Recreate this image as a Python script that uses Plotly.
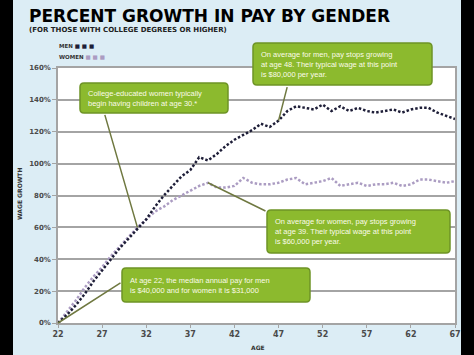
import plotly.graph_objects as go

ages = list(range(22, 68))
men = [0, 5, 11, 18, 26, 33, 40, 47, 53, 59, 65, 73, 80, 86, 92, 96, 104, 102, 106, 111,
       115, 118, 121, 125, 123, 127, 133, 136, 135, 134, 137, 133, 136, 133, 135, 133,
       132, 133, 134, 132, 134, 135, 135, 132, 130, 128]
women = [0, 7, 14, 22, 29, 35, 42, 48, 54, 60, 65, 70, 73, 77, 80, 83, 86, 88, 85, 85,
         86, 91, 88, 87, 87, 88, 90, 91, 87, 88, 89, 91, 86, 87, 88, 86, 87, 87, 88, 86,
         87, 90, 90, 89, 88, 89]
x_ticks = [22, 27, 32, 37, 42, 47, 52, 57, 62, 67]
y_ticks = [0, 20, 40, 60, 80, 100, 120, 140, 160]
y_tick_labels = [f"{v}%" for v in y_ticks]

MEN_C = "#1e1e38"
WOMEN_C = "#ab9cc2"
BOX_FILL = "#8cba2e"
BOX_LINE = "#6e9426"
LEAD_C = "#6f7840"

W, H = 474, 355
L, R, T, B = 58, 19, 68, 32
PW, PH = W - L - R, H - T - B

def px(xp):
    return (xp - L) / PW

def py(yp):
    return (H - B - yp) / PH

fig = go.Figure()
fig.add_trace(go.Scatter(x=ages, y=women, mode="lines", name="WOMEN",
                         line=dict(color=WOMEN_C, width=2.5, dash="2.5px,2px")))
fig.add_trace(go.Scatter(x=ages, y=men, mode="lines", name="MEN",
                         line=dict(color=MEN_C, width=2.5, dash="2.5px,2px")))

fig.update_layout(
    width=W, height=H,
    margin=dict(l=L, r=R, t=T, b=B),
    paper_bgcolor="#dcedf5",
    plot_bgcolor="white",
    showlegend=False,
    xaxis=dict(range=[22, 67], tickvals=x_ticks, ticktext=[str(v) for v in x_ticks],
               showgrid=False, zeroline=False, showline=True, linecolor="#a4a4a4",
               linewidth=1.5, mirror=True, ticks="outside", ticklen=3, tickcolor="#a4a4a4",
               tickfont=dict(family="DejaVu Sans", size=8, color="#4a4a4a", weight="bold")),
    yaxis=dict(range=[0, 160], tickvals=y_ticks, ticktext=y_tick_labels,
               showgrid=True, gridcolor="#a4a4a4", gridwidth=2, zeroline=False,
               showline=True, linecolor="#a4a4a4", linewidth=1.5, mirror=True,
               ticks="outside", ticklen=4, tickcolor="#a4a4a4",
               tickfont=dict(family="DejaVu Sans", size=7, color="#4a4a4a", weight="bold")),
)

annos = []
annos.append(dict(text="PERCENT GROWTH IN PAY BY GENDER", xref="paper", yref="paper",
                  x=px(27), y=py(16), xanchor="left", yanchor="middle", showarrow=False,
                  font=dict(family="DejaVu Sans", size=17, color="black", weight="bold")))
annos.append(dict(text="(FOR THOSE WITH COLLEGE DEGREES OR HIGHER)", xref="paper", yref="paper",
                  x=px(27), y=py(29.5), xanchor="left", yanchor="middle", showarrow=False,
                  font=dict(family="DejaVu Sans", size=7, color="#222", weight="bold")))
annos.append(dict(text=f"MEN <span style='color:{MEN_C}'>■ ■ ■</span>", xref="paper", yref="paper",
                  x=px(57), y=py(46), xanchor="left", yanchor="middle", showarrow=False,
                  font=dict(family="DejaVu Sans", size=5.5, color="#333", weight="bold")))
annos.append(dict(text=f"WOMEN <span style='color:{WOMEN_C}'>■ ■ ■</span>", xref="paper", yref="paper",
                  x=px(57), y=py(57), xanchor="left", yanchor="middle", showarrow=False,
                  font=dict(family="DejaVu Sans", size=5.5, color="#333", weight="bold")))
annos.append(dict(text="WAGE GROWTH", xref="paper", yref="paper", x=px(19), y=py(194),
                  textangle=-90, showarrow=False, xanchor="center", yanchor="middle",
                  font=dict(family="DejaVu Sans", size=6, color="#333", weight="bold")))
annos.append(dict(text="AGE", xref="paper", yref="paper", x=px(258), y=py(347),
                  showarrow=False, xanchor="center", yanchor="middle",
                  font=dict(family="DejaVu Sans", size=6, color="#333", weight="bold")))

leaders = [
    (31, 60, -33, -114),
    (47, 127, 9, -35),
    (39, 88, 59, 29),
    (22, 0, 64, -41),
]
for xv, yv, ax, ay in leaders:
    annos.append(dict(text="", x=xv, y=yv, xref="x", yref="y", showarrow=True,
                      arrowhead=0, arrowwidth=1.5, arrowcolor=LEAD_C, ax=ax, ay=ay,
                      standoff=0, startstandoff=0))

boxes = [
    ("College-educated women typically<br>begin having children at age 30.*", 80, 228, 83, 113),
    ("On average for men, pay stops growing<br>at age 48. Their typical wage at this point<br>is $80,000 per year.", 253, 432, 43, 85),
    ("On average for women, pay stops growing<br>at age 39. Their typical wage at this point<br>is $60,000 per year.", 267, 450, 210, 253),
    ("At age 22, the median annual pay for men<br>is $40,000 and for women it is $31,000", 122, 310, 268, 302),
]
shapes = []
for text, x0, x1, y0, y1 in boxes:
    r = 4
    def P(a, b):
        return f"{px(a):.5f},{py(b):.5f}"
    path = (f"M {P(x0 + r, y0)} L {P(x1 - r, y0)} Q {P(x1, y0)} {P(x1, y0 + r)} "
            f"L {P(x1, y1 - r)} Q {P(x1, y1)} {P(x1 - r, y1)} L {P(x0 + r, y1)} "
            f"Q {P(x0, y1)} {P(x0, y1 - r)} L {P(x0, y0 + r)} Q {P(x0, y0)} {P(x0 + r, y0)} Z")
    shapes.append(dict(type="path", path=path, xref="paper", yref="paper",
                       fillcolor=BOX_FILL, line=dict(color=BOX_LINE, width=1.5), layer="above"))
    annos.append(dict(text=text, xref="paper", yref="paper", x=px(x0 + 6), y=py((y0 + y1) / 2),
                      xanchor="left", yanchor="middle", showarrow=False, align="left",
                      font=dict(family="Liberation Sans", size=7.5, color="#fbfbe8")))

shapes.append(dict(type="rect", xref="paper", yref="paper", x0=px(0), x1=px(13), y0=py(355), y1=py(0),
                   fillcolor="black", line=dict(width=0), layer="above"))
shapes.append(dict(type="rect", xref="paper", yref="paper", x0=px(461), x1=px(474), y0=py(355), y1=py(0),
                   fillcolor="black", line=dict(width=0), layer="above"))

fig.update_layout(annotations=annos, shapes=shapes)
fig.write_html("out.html", config={"displayModeBar": False},
               post_script="document.body.style.margin='0';document.body.style.overflow='hidden';")
